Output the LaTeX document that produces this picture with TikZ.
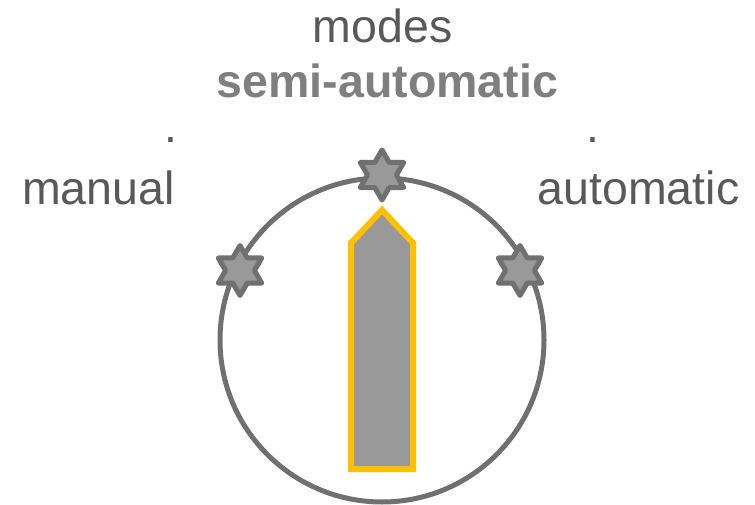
\documentclass[tikz,border=0pt]{standalone}
\usepackage{fontspec}
\setmainfont{Liberation Sans}
\usetikzlibrary{shapes.geometric}
\definecolor{txtdark}{HTML}{595959}
\definecolor{txtmid}{HTML}{7F7F7F}
\definecolor{ringgray}{HTML}{707070}
\definecolor{fillgray}{HTML}{999999}
\definecolor{gold}{HTML}{FFC000}
\tikzset{
  lbl/.style={anchor=base, inner sep=0pt, text=txtdark, font=\fontsize{46.5}{50}\selectfont},
  boldlbl/.style={lbl, text=txtmid, font=\fontsize{46.5}{50}\selectfont\bfseries},
  starmark/.style={star, star points=6, star point ratio=1.73, minimum size=50pt, inner sep=0pt,
    draw=ringgray, fill=fillgray, line width=5pt, line join=round},
  ring/.style={circle, draw=ringgray, line width=5pt, minimum size=324pt, inner sep=0pt},
  needle/.style={draw=gold, fill=fillgray, line width=6pt, line join=miter}
}
\begin{document}
\begin{tikzpicture}[x=1pt,y=-1pt]
\useasboundingbox (0,0) rectangle (755,505);
\node[ring] (dial) at (382,340) {};
\node[lbl] (modes) at (382.5,43) {modes};
\node[boldlbl] (semi) at (387.5,98) {semi-automatic};
\node[lbl] (manual) at (98.5,205) {manual};
\node[lbl] (auto) at (638.5,205) {automatic};
\node[lbl] (dotl) at (170.5,143) {.};
\node[lbl] (dotr) at (592.5,143) {.};
\draw[needle] (351,469) -- (351,243) -- (382,210) -- (413,243) -- (413,469) -- cycle;
\node[starmark] (stop) at (382,175) {};
\node[starmark] (sleft) at (240,270.5) {};
\node[starmark] (sright) at (520,270.5) {};
\end{tikzpicture}
\end{document}
